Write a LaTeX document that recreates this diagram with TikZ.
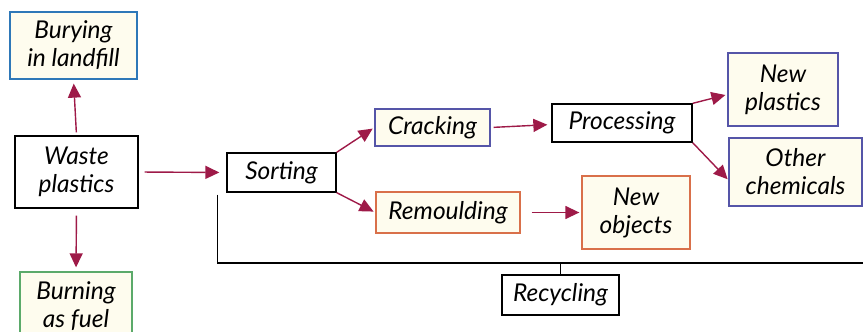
\documentclass[tikz,border=0pt]{standalone}
\usepackage{fontspec}
\setmainfont{Lato}
\usetikzlibrary{arrows.meta}
\definecolor{cream}{HTML}{FEFCEE}
\definecolor{cblue}{HTML}{2E78B8}
\definecolor{cgreen}{HTML}{5BAA6A}
\definecolor{cpurple}{HTML}{5555A8}
\definecolor{corange}{HTML}{D9704A}
\definecolor{crimson}{HTML}{9E1A48}
\tikzset{
  box/.style={draw=black, line width=1.3pt, fill=white, inner sep=0pt, align=center,
    font=\fontsize{24.5}{28}\selectfont\itshape},
  cbox/.style={box, fill=cream, draw=#1},
  arr/.style={draw=crimson, line width=1.4pt, -{Triangle[length=14pt,width=13pt]}},
  rline/.style={draw=black, line width=1.3pt},
}
\begin{document}
\begin{tikzpicture}[x=1pt,y=-1pt]
\useasboundingbox (0,0) rectangle (863,332);
\node[cbox=cblue, minimum width=127pt, minimum height=67pt] (bury) at (73.5,45.5) {Burying\\in landfill};
\node[box, minimum width=123pt, minimum height=72pt] (waste) at (76.5,172) {Waste\\plastics};
\node[cbox=cgreen, minimum width=112pt, minimum height=68pt] (burn) at (76,306) {Burning\\as fuel};
\node[box, minimum width=109pt, minimum height=39pt] (sort) at (281.5,172.5) {Sorting};
\node[cbox=cpurple, minimum width=115pt, minimum height=37pt] (crack) at (432.5,127.5) {Cracking};
\node[cbox=corange, minimum width=144pt, minimum height=41pt] (remould) at (448,212.5) {Remoulding};
\node[box, minimum width=140pt, minimum height=38pt] (proc) at (622,123) {Processing};
\node[cbox=corange, minimum width=108pt, minimum height=73pt] (newobj) at (636,212.5) {New\\objects};
\node[cbox=cpurple, minimum width=110pt, minimum height=73pt] (newplast) at (783,89.5) {New\\plastics};
\node[cbox=cpurple, minimum width=133pt, minimum height=68pt] (other) at (795.5,172) {Other\\chemicals};
\node[box, minimum width=117pt, minimum height=40pt] (recyc) at (560.5,295) {Recycling};
\coordinate (rend) at (863,263);
% arrows
\draw[arr, shorten <=3pt, shorten >=4pt] (waste.north) -- (bury.south);
\draw[arr, shorten <=7pt, shorten >=4pt] (waste.south) -- (burn.north);
\draw[arr, shorten <=6pt, shorten >=7pt] (waste.east) -- (sort.west);
\draw[arr, shorten >=2pt] (sort.north east) -- (crack.west);
\draw[arr, shorten >=2pt] (sort.south east) -- (remould.west);
\draw[arr, shorten <=3pt, shorten >=4pt] (crack.east) -- ([yshift=-1.5pt]proc.west);
\draw[arr, shorten >=2pt] (proc.north east) -- ([yshift=-5pt]newplast.west);
\draw[arr, shorten >=1pt] (proc.south east) -- ([yshift=-8pt]other.west);
\draw[arr, shorten <=11pt, shorten >=2pt] (remould.east) -- (newobj.west);
% recycling line
\draw[rline] ([xshift=-9pt,yshift=-2pt]sort.south west) |- (rend);
\draw[rline] (recyc.north) -- (recyc.north |- rend);
\end{tikzpicture}
\end{document}
